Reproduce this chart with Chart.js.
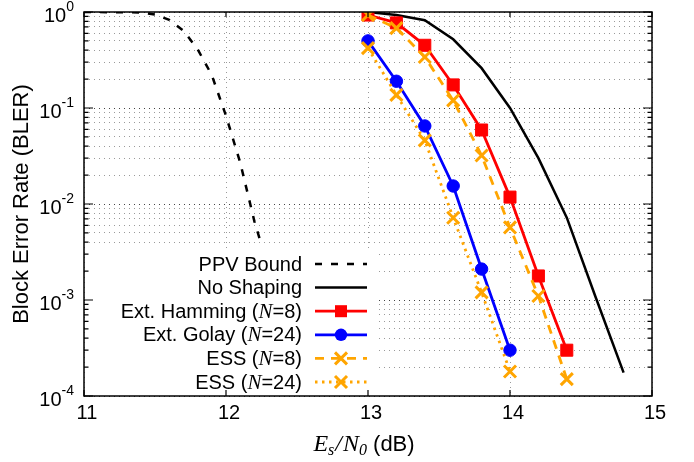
<!DOCTYPE html>
<html>
<head>
<meta charset="utf-8">
<script src="https://cdn.jsdelivr.net/npm/chart.js@4.4.1/dist/chart.umd.min.js"></script>
<style>
  body { margin: 0; background: #fff; }
</style>
</head>
<body>
<canvas id="bler" width="694" height="462"></canvas>
<script>
// Es/N0 grid of the simulated codes
var esn0 = [13.0, 13.2, 13.4, 13.6, 13.8, 14.0, 14.2, 14.4];

var ppvX = [11.0, 11.4, 11.5, 11.6, 11.7, 11.8, 11.9, 12.0, 12.1, 12.2, 12.24];
var ppvBound = [1.0, 0.99, 0.94, 0.83, 0.64, 0.41, 0.22, 0.083, 0.027, 0.0066, 0.0042];

var noShapingX = [13.0, 13.2, 13.4, 13.6, 13.8, 14.0, 14.2, 14.4, 14.6, 14.8];
var noShaping = [1.0, 0.93, 0.82, 0.52, 0.26, 0.10, 0.03, 0.0072, 0.0011, 0.000175];

var extHamming = [0.93, 0.77, 0.45, 0.174, 0.059, 0.0118, 0.00178, 0.0003];
var extGolay = [0.5, 0.19, 0.065, 0.0154, 0.0021, 0.0003];
var ess8 = [0.93, 0.68, 0.34, 0.12, 0.032, 0.0057, 0.0011, 0.00015];
var ess24 = [0.42, 0.137, 0.046, 0.0072, 0.0012, 0.00018];

var xTicks = [11, 12, 13, 14, 15];
var yDecades = [1e-4, 1e-3, 1e-2, 1e-1, 1];

var SANS = '20px "Liberation Sans", Arial, sans-serif';
var TITLE = '22px "Liberation Sans", Arial, sans-serif';
var SUP = '14px "Liberation Sans", Arial, sans-serif';
var ITAL = 'italic 21px "Liberation Serif", "Times New Roman", serif';
var ITAL_BIG = 'italic 24px "Liberation Serif", "Times New Roman", serif';
var ITAL_SUB = 'italic 16px "Liberation Serif", "Times New Roman", serif';

function pts(xs, ys) {
    var out = [];
    for (var i = 0; i < ys.length; i++) out.push({ x: xs[i], y: ys[i] });
    return out;
}

// label text with the N of "(N=..)" set in italic
function labelParts(s) {
    var m = s.match(/^(.*\()N(=.*)$/);
    if (!m) return [{ t: s, f: SANS }];
    return [{ t: m[1], f: SANS }, { t: 'N', f: ITAL }, { t: m[2], f: SANS }];
}

function drawParts(ctx, parts, x, y, align) {
    var w = 0;
    parts.forEach(function (p) { ctx.font = p.f; w += ctx.measureText(p.t).width + (p.gap || 0); });
    var cx = align === 'right' ? x - w : (align === 'center' ? x - w / 2 : x);
    parts.forEach(function (p) {
        ctx.font = p.f;
        ctx.fillText(p.t, cx, y + (p.dy || 0));
        cx += ctx.measureText(p.t).width + (p.gap || 0);
    });
}

function drawMarker(ctx, style, x, y, r, color, lw) {
    ctx.save();
    ctx.fillStyle = color;
    ctx.strokeStyle = color;
    ctx.lineWidth = lw;
    ctx.setLineDash([]);
    ctx.beginPath();
    if (style === 'rect') {
        var s = r * Math.SQRT1_2;
        ctx.rect(x - s, y - s, 2 * s, 2 * s);
        ctx.fill();
    } else if (style === 'circle') {
        ctx.arc(x, y, r, 0, Math.PI * 2);
        ctx.fill();
    } else if (style === 'crossRot') {
        var c = r * Math.SQRT1_2;
        ctx.moveTo(x - c, y - c); ctx.lineTo(x + c, y + c);
        ctx.moveTo(x - c, y + c); ctx.lineTo(x + c, y - c);
        ctx.stroke();
    }
    ctx.restore();
}

var legendBox = {
    id: 'legendBox',
    beforeDatasetsDraw: function (chart) {
        var ctx = chart.ctx, a = chart.chartArea;
        var right = 378, top = 248;
        ctx.save();
        ctx.fillStyle = '#fff';
        ctx.fillRect(a.left + 1, top, right - a.left - 1, a.bottom - top - 1);
        ctx.textBaseline = 'middle';
        ctx.fillStyle = '#000';
        chart.data.datasets.forEach(function (ds, i) {
            var y = 264 + i * 23.6;
            drawParts(ctx, labelParts(ds.label), 302, y + 1, 'right');
            ctx.save();
            ctx.strokeStyle = ds.borderColor;
            ctx.lineWidth = ds.borderWidth;
            ctx.setLineDash(ds.borderDash || []);
            ctx.beginPath();
            ctx.moveTo(315, y); ctx.lineTo(367, y);
            ctx.stroke();
            ctx.restore();
            if (ds.pointRadius > 0) {
                drawMarker(ctx, ds.pointStyle, 341, y, ds.pointRadius, ds.borderColor, ds.pointBorderWidth || 1);
            }
        });
        ctx.restore();
    }
};

var frame = {
    id: 'frame',
    afterDraw: function (chart) {
        var ctx = chart.ctx, a = chart.chartArea;
        var xs = chart.scales.x, ys = chart.scales.y;
        ctx.save();
        ctx.strokeStyle = '#000';
        ctx.lineWidth = 1.5;
        ctx.setLineDash([]);
        ctx.strokeRect(a.left, a.top, a.right - a.left, a.bottom - a.top);

        // inward tick marks on all four sides
        ctx.lineWidth = 1.2;
        ctx.beginPath();
        ys.ticks.forEach(function (t) {
            var py = ys.getPixelForValue(t.value);
            var len = t.major ? 9 : 4.5;
            ctx.moveTo(a.left, py); ctx.lineTo(a.left + len, py);
            ctx.moveTo(a.right, py); ctx.lineTo(a.right - len, py);
        });
        xTicks.forEach(function (v) {
            var px = xs.getPixelForValue(v);
            ctx.moveTo(px, a.bottom); ctx.lineTo(px, a.bottom - 6);
            ctx.moveTo(px, a.top); ctx.lineTo(px, a.top + 5);
        });
        ctx.stroke();

        ctx.fillStyle = '#000';
        ctx.textBaseline = 'middle';

        // y labels as 10 with a raised exponent
        yDecades.forEach(function (d) {
            var py = ys.getPixelForValue(d);
            var e = String(Math.round(Math.log10(d)));
            drawParts(ctx, [{ t: '10', f: SANS, dy: 4 }, { t: e, f: SUP, dy: -5 }], 74, py, 'right');
        });

        // x labels
        ctx.font = SANS;
        ctx.textAlign = 'center';
        xTicks.forEach(function (v) {
            ctx.fillText(String(v), xs.getPixelForValue(v) + 3, a.bottom + 17);
        });
        ctx.textAlign = 'left';

        // axis titles
        ctx.textBaseline = 'alphabetic';
        drawParts(ctx, [
            { t: 'E', f: ITAL_BIG },
            { t: 's', f: ITAL_SUB, dy: 4, gap: 1 },
            { t: '/', f: ITAL_BIG, gap: 1 },
            { t: 'N', f: ITAL_BIG },
            { t: '0', f: ITAL_SUB, dy: 4 },
            { t: ' (dB)', f: TITLE }
        ], 364, 451, 'center');

        ctx.translate(22, (a.top + a.bottom) / 2);
        ctx.rotate(-Math.PI / 2);
        ctx.textBaseline = 'middle';
        ctx.textAlign = 'center';
        ctx.font = TITLE;
        ctx.fillText('Block Error Rate (BLER)', 0, 0);
        ctx.restore();
    }
};

var ctx = document.getElementById('bler').getContext('2d');
var blerChart = new Chart(ctx, {
    type: 'line',
    data: {
        datasets: [{
            label: 'PPV Bound',
            data: pts(ppvX, ppvBound),
            borderColor: '#000',
            borderWidth: 2.5,
            borderDash: [7, 9],
            pointRadius: 0,
            order: 6
        },
        {
            label: 'No Shaping',
            data: pts(noShapingX, noShaping),
            borderColor: '#000',
            borderWidth: 2.5,
            pointRadius: 0,
            order: 5
        },
        {
            label: 'Ext. Hamming (N=8)',
            data: pts(esn0, extHamming),
            borderColor: '#ff0000',
            backgroundColor: '#ff0000',
            borderWidth: 2.8,
            pointStyle: 'rect',
            pointRadius: 8.5,
            pointBorderWidth: 1,
            order: 4
        },
        {
            label: 'Ext. Golay (N=24)',
            data: pts(esn0, extGolay),
            borderColor: '#0000ff',
            backgroundColor: '#0000ff',
            borderWidth: 2.8,
            pointStyle: 'circle',
            pointRadius: 6.2,
            pointBorderWidth: 1,
            order: 3
        },
        {
            label: 'ESS (N=8)',
            data: pts(esn0, ess8),
            borderColor: '#ffa500',
            backgroundColor: '#ffa500',
            borderWidth: 2.8,
            borderDash: [9, 7],
            pointStyle: 'crossRot',
            pointRadius: 8.5,
            pointBorderWidth: 3,
            order: 2
        },
        {
            label: 'ESS (N=24)',
            data: pts(esn0, ess24),
            borderColor: '#ffa500',
            backgroundColor: '#ffa500',
            borderWidth: 2.8,
            borderDash: [2.5, 4.5],
            pointStyle: 'crossRot',
            pointRadius: 8.5,
            pointBorderWidth: 3,
            order: 1
        }]
    },
    options: {
        responsive: false,
        animation: false,
        devicePixelRatio: 1,
        layout: { padding: { left: 0, right: 42, top: 12, bottom: 0 } },
        plugins: {
            legend: { display: false },
            tooltip: { enabled: false }
        },
        elements: { line: { tension: 0 } },
        scales: {
            x: {
                type: 'linear',
                min: 11,
                max: 15,
                afterBuildTicks: function (scale) {
                    scale.ticks = xTicks.map(function (v) { return { value: v }; });
                },
                ticks: { display: false },
                grid: { color: '#9a9a9a', lineWidth: 1, drawTicks: false },
                border: { display: false, dash: [1, 4] },
                afterFit: function (scale) { scale.height = 66; }
            },
            y: {
                type: 'logarithmic',
                min: 1e-4,
                max: 1,
                afterBuildTicks: function (scale) {
                    var t = [];
                    yDecades.forEach(function (d, i) {
                        var top = i === yDecades.length - 1 ? 1 : 9;
                        for (var k = 1; k <= top; k++) t.push({ value: d * k, major: k === 1 });
                    });
                    scale.ticks = t;
                },
                ticks: { display: false, autoSkip: false },
                grid: {
                    color: function (c) { return c.tick && c.tick.major ? '#444' : '#9a9a9a'; },
                    lineWidth: 1,
                    drawTicks: false
                },
                border: { display: false, dash: [1, 4] },
                afterFit: function (scale) { scale.width = 84; }
            }
        }
    },
    plugins: [legendBox, frame]
});
</script>
</body>
</html>
